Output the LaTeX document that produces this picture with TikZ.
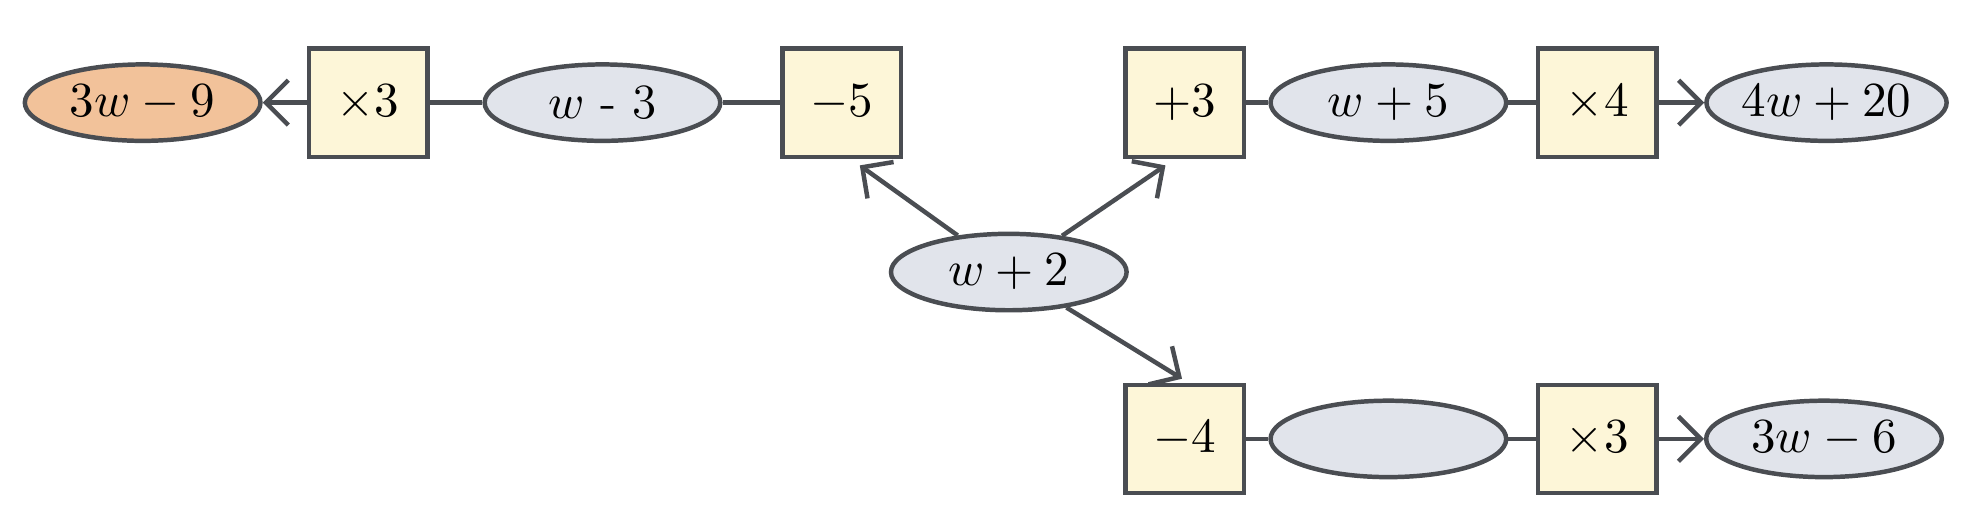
\documentclass[tikz,border=0pt]{standalone}
\usepackage{tikz}
\usetikzlibrary{arrows.meta, shapes.geometric}
\definecolor{edgegray}{HTML}{4A4D52}
\definecolor{ovalfill}{HTML}{E1E4EB}
\definecolor{boxfill}{HTML}{FDF6D8}
\definecolor{answerfill}{HTML}{F2C29A}
\tikzset{every node/.style={align=center, font=\fontsize{11}{13}\selectfont}}
\tikzset{oval/.style={ellipse, draw=edgegray, line width=1pt, fill=ovalfill, minimum width=1.85cm, minimum height=0.6cm, inner sep=0pt}}
\tikzset{op/.style={rectangle, draw=edgegray, line width=1pt, fill=boxfill, minimum width=0.93cm, minimum height=0.85cm, inner sep=0pt}}
\tikzset{link/.style={line width=1pt, edgegray}}
\tikzset{flow/.style={line width=1pt, edgegray, -{Straight Barb[length=5pt, width=10pt]}}}

\begin{document}
\begin{tikzpicture}
	% Frame
	\useasboundingbox (0,0) rectangle (15.6,4.146);
	
	% Start
	\node[oval] (start) at (7.92,2.01) {$w + 2$};
	
	% Upper left chain
	\node[op] (minusfive) at (6.61,3.34) {$-5$};
	\node[oval] (wminus) at (4.73,3.34) {$w$ - 3};
	\node[op] (timesthreeA) at (2.89,3.34) {$\times 3$};
	\node[oval, fill=answerfill] (answer) at (1.12,3.34) {$3w - 9$};
	
	% Upper right chain
	\node[op] (plusthree) at (9.30,3.34) {$+3$};
	\node[oval] (wplus) at (10.90,3.34) {$w + 5$};
	\node[op] (timesfour) at (12.54,3.34) {$\times 4$};
	\node[oval] (result) at (14.34,3.34) {$4w + 20$};
	
	% Lower chain
	\node[op] (minusfour) at (9.30,0.70) {$-4$};
	\node[oval] (blank) at (10.90,0.70) {};
	\node[op] (timesthreeB) at (12.54,0.70) {$\times 3$};
	\node[oval] (resultB) at (14.32,0.70) {$3w - 6$};
	
	% Branches
	\coordinate (toFive) at ([xshift=0.14cm, yshift=-0.05cm]minusfive.south);
	\coordinate (toThree) at ([xshift=-0.15cm, yshift=-0.05cm]plusthree.south);
	\coordinate (toFour) at ([xshift=-0.02cm, yshift=0.03cm]minusfour.north);
	\draw[flow] (start) -- (toFive);
	\draw[flow] (start) -- (toThree);
	\draw[flow] (start) -- (toFour);
	
	% Links
	\draw[link] (minusfive) -- (wminus);
	\draw[link] (wminus) -- (timesthreeA);
	\draw[flow] (timesthreeA) -- (answer);
	\draw[link] (plusthree) -- (wplus);
	\draw[link] (wplus) -- (timesfour);
	\draw[flow] (timesfour) -- (result);
	\draw[link] (minusfour) -- (blank);
	\draw[link] (blank) -- (timesthreeB);
	\draw[flow] (timesthreeB) -- (resultB);
\end{tikzpicture}
\end{document}
